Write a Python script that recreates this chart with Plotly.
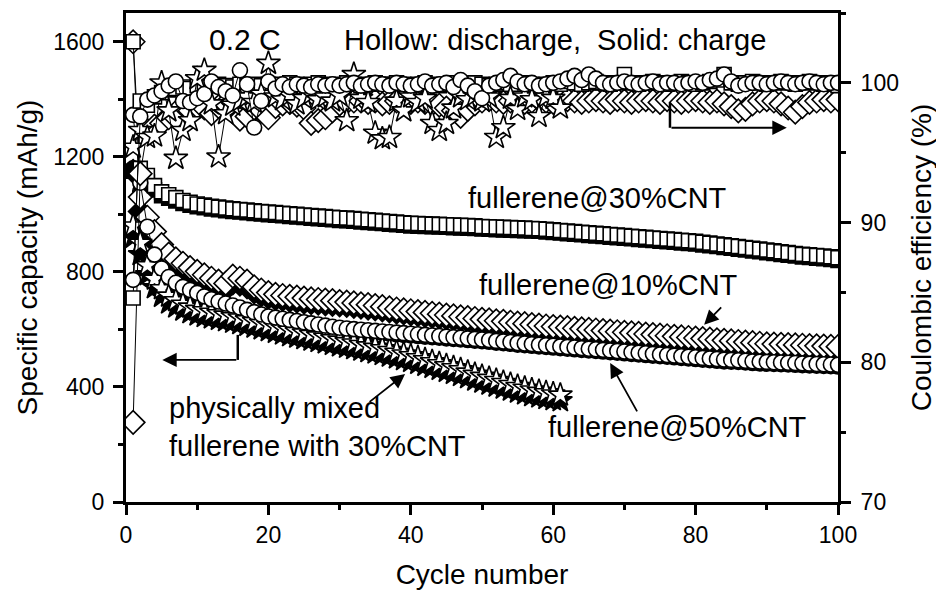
import plotly.graph_objects as go

cycles_100 = list(range(1, 101))
cycles_61 = list(range(1, 62))

# fullerene@30%CNT (squares)
sq_dis = [1600,1160,1135,1100,1078,1068,1058,1048,1042,1036,
          1032,1028,1025,1022,1019,1017,1015,1012,1010,1008,
          1006,1004,1002,1000,998,996,994,992,990,988,
          987,985,983,981,979,977,975,973,971,969,
          968,967,966,965,964,963,962,961,960,958,
          957,956,955,954,953,952,951,950,948,946,
          944,942,940,938,936,934,932,930,928,926,
          924,922,920,918,916,914,912,910,908,906,
          903,900,897,894,891,888,885,882,879,876,
          873,870,867,864,861,859,857,855,852,849]
sq_chg = [1150,1140,1112,1085,1065,1056,1047,1038,1032,1027,
          1023,1019,1016,1013,1010,1008,1006,1003,1001,999,
          997,995,993,991,989,987,985,983,981,979,
          978,976,974,972,970,968,966,964,962,960,
          959,958,957,956,955,954,953,952,951,949,
          948,947,946,945,944,943,942,941,939,937,
          935,933,931,929,927,925,923,921,919,917,
          915,913,911,909,907,905,903,901,899,897,
          894,891,888,885,882,879,876,873,870,867,
          864,861,858,855,852,850,848,846,843,840]
sq_ce = [84.6,98.7,98.4,99.0,99.3,99.5,99.6,99.7,99.6,99.8,
         99.7,99.8,99.9,99.8,99.7,99.9,99.8,99.9,99.8,99.9,
         99.8,99.9,100.0,99.9,99.8,99.9,100.0,99.9,99.8,99.9,
         100.0,99.9,99.8,99.9,100.0,99.9,99.9,100.0,99.9,99.8,
         99.9,100.0,99.9,99.8,99.9,100.0,99.9,99.9,100.0,99.9,
         99.8,99.9,100.0,99.9,99.9,100.0,99.9,99.8,99.9,100.0,
         99.9,100.1,100.0,99.9,100.0,100.1,100.0,99.9,100.0,100.6,
         100.0,99.9,100.0,100.1,100.0,99.9,100.0,100.1,100.0,99.9,
         100.0,100.1,100.2,100.6,100.0,99.9,100.0,100.1,100.0,99.9,
         100.0,100.1,100.0,99.9,100.0,100.1,100.0,99.9,100.0,99.8]

# fullerene@10%CNT (diamonds)
di_dis = [1600,1060,990,940,895,862,845,830,815,802,
          790,778,768,760,785,778,768,748,737,728,
          722,718,715,712,709,706,704,702,700,697,
          695,692,689,686,683,679,675,671,668,665,
          662,659,656,653,650,647,644,641,638,635,
          633,630,628,625,622,620,617,615,612,610,
          608,606,604,602,600,598,596,594,592,590,
          588,586,584,582,580,578,576,574,572,570,
          568,566,564,562,560,558,556,554,552,550,
          549,548,547,546,545,544,543,542,541,540]
di_chg = [1150,1010,950,905,865,835,818,803,790,778,
          767,756,747,740,762,757,748,730,720,712,
          707,704,701,698,695,693,691,689,687,685,
          683,680,677,674,671,668,664,660,657,654,
          651,648,645,642,639,636,633,630,627,624,
          622,620,618,615,612,610,607,605,602,600,
          598,596,594,592,590,588,586,584,582,580,
          578,576,574,572,570,568,566,564,562,560,
          558,556,554,552,550,548,546,544,542,540,
          539,538,537,536,535,534,533,532,531,530]
di_ce = [75.7,93.5,96.6,96.9,97.1,97.5,97.5,98.4,98.0,98.3,
         98.2,97.8,98.3,98.5,98.6,97.4,97.6,98.2,98.0,97.5,
         98.3,98.5,98.6,98.4,98.2,97.1,97.3,97.5,98.0,98.5,
         98.6,98.7,98.7,98.6,98.7,98.5,98.6,98.7,98.8,98.6,
         98.7,98.6,98.5,98.4,98.2,98.0,97.6,98.1,98.5,98.7,
         98.8,98.7,98.6,98.7,98.8,98.6,98.7,98.8,98.7,98.6,
         98.7,98.8,98.7,98.6,98.7,98.8,98.7,98.6,98.8,98.7,
         98.6,98.7,98.8,98.7,98.6,98.8,98.7,98.6,98.7,98.8,
         98.7,98.6,98.7,98.5,98.3,98.0,98.1,98.5,98.7,98.8,
         98.7,98.5,98.2,97.9,98.3,98.6,98.7,98.8,98.7,98.8]

# fullerene@50%CNT (circles)
ci_dis = [1346,1110,957,860,812,782,762,748,737,727,
          715,705,697,690,683,676,668,660,652,645,
          641,637,633,629,625,621,617,613,609,606,
          603,601,599,597,595,593,591,589,587,585,
          583,581,579,577,575,573,571,569,567,565,
          563,560,558,556,553,551,549,547,545,543,
          541,539,537,535,533,531,529,527,525,523,
          521,519,517,515,513,511,509,507,505,503,
          501,499,497,495,494,493,491,489,488,487,
          486,485,484,483,482,481,480,479,478,477]
ci_chg = [1160,1080,930,840,795,768,750,737,727,718,
          707,698,690,683,676,669,661,653,645,639,
          635,631,627,623,619,615,611,607,603,600,
          597,595,593,591,589,587,585,583,581,579,
          577,575,573,571,569,567,565,563,561,559,
          557,554,552,550,547,545,543,541,539,537,
          535,533,531,529,527,525,523,521,519,517,
          515,513,511,509,507,505,503,501,499,497,
          495,493,491,489,488,487,485,483,482,481,
          480,479,478,477,476,475,474,473,472,471]
ci_ce = [85.9,97.6,98.8,99.1,99.4,99.8,100.1,98.7,98.6,98.9,
         99.2,100.1,99.7,99.4,99.1,100.9,99.9,96.8,98.7,100.1,
         99.6,99.9,99.7,99.9,99.8,99.7,99.9,99.8,99.9,99.8,
         99.9,100.0,99.8,99.9,100.0,99.9,99.8,100.0,99.9,99.8,
         99.9,100.1,99.8,99.9,100.0,99.7,100.2,99.8,99.4,98.9,
         99.8,100.0,100.2,100.5,100.1,99.9,100.0,99.8,99.9,100.0,
         100.1,100.3,100.5,100.2,100.6,100.3,100.0,99.9,100.0,100.1,
         100.0,99.9,100.0,100.1,99.9,100.0,100.0,99.9,100.0,100.1,
         100.0,100.2,100.3,100.6,100.1,99.8,99.9,100.0,100.0,99.9,
         100.0,100.1,100.0,99.9,100.0,100.1,100.0,99.9,100.0,100.0]

# physically mixed fullerene with 30%CNT (stars)
st_dis = [960,900,822,775,742,716,700,688,678,670,
          665,660,655,650,645,640,634,628,622,616,
          610,604,598,593,588,583,578,573,568,563,
          558,553,548,543,538,533,527,521,515,509,
          502,495,488,481,474,467,460,452,444,437,
          430,423,416,409,402,396,390,385,380,376,372]
st_chg = [920,860,790,745,715,692,678,667,658,650,
          645,640,635,630,625,620,614,608,602,596,
          590,584,578,573,568,563,558,553,548,543,
          538,533,528,523,518,513,507,501,495,489,
          482,475,468,461,454,447,440,432,424,417,
          410,403,396,389,382,376,370,365,360,356,352]
st_ce = [95.4,96.6,96.1,96.2,100.0,98.0,94.6,96.6,97.3,100.3,
         100.9,98.5,94.7,97.8,98.4,98.7,99.0,98.6,99.2,101.4,
         99.0,98.8,99.1,98.5,98.9,99.2,98.8,99.0,98.7,99.1,
         97.3,100.6,98.9,98.6,96.4,96.0,96.1,98.7,98.0,99.0,
         98.6,98.9,97.1,96.6,97.1,98.2,99.0,98.8,99.1,98.7,
         99.0,96.1,96.8,98.9,98.1,99.0,98.8,97.6,99.0,98.9,98.2]

FONT = "Arial, Liberation Sans, sans-serif"
fig = go.Figure()

def add(x, y, sym, size, filled, axis):
    fig.add_trace(go.Scatter(
        x=x, y=y, yaxis=axis, mode="lines+markers",
        line=dict(color="black", width=1),
        marker=dict(symbol=sym, size=size,
                    color="black" if filled else "white",
                    line=dict(color="black", width=1.6)),
        showlegend=False, hoverinfo="skip"))

series = [
    (cycles_100, di_dis, di_chg, di_ce, "diamond", 18),
    (cycles_100, sq_dis, sq_chg, sq_ce, "square", 14),
    (cycles_61, st_dis, st_chg, st_ce, "star", 18),
    (cycles_100, ci_dis, ci_chg, ci_ce, "circle", 15),
]
for x, d, c, e, s, z in series:
    add(x, c, s, z, True, "y")
for x, d, c, e, s, z in series:
    add(x, d, s, z, False, "y")
for x, d, c, e, s, z in series:
    add(x, e, s, z, False, "y2")

axis_common = dict(showline=True, linecolor="black", linewidth=3,
                   ticks="outside", ticklen=10, tickwidth=2.5, tickcolor="black",
                   showgrid=False, zeroline=False, automargin=False,
                   tickfont=dict(family=FONT, size=23, color="black"))
minor_common = dict(ticklen=5, tickwidth=2.5, ticks="outside", tickcolor="black")
title_font = dict(family=FONT, size=28, color="black")

fig.update_layout(
    width=944, height=592,
    margin=dict(l=118, r=114, t=5, b=98),
    paper_bgcolor="white", plot_bgcolor="white",
    font=dict(family=FONT, color="black"),
    xaxis=dict(range=[0, 100], dtick=20, mirror=True,
               minor=dict(dtick=10, **minor_common),
               title=dict(text="Cycle number", font=title_font, standoff=18),
               **axis_common),
    yaxis=dict(range=[0, 1700], dtick=400, ticklabelstandoff=4,
               minor=dict(dtick=200, **minor_common),
               title=dict(text="Specific capacity (mAh/g)", font=title_font, standoff=8),
               **axis_common),
    yaxis2=dict(range=[70, 105], dtick=10, overlaying="y", side="right",
                ticklabelstandoff=5,
                minor=dict(dtick=5, **minor_common),
                title=dict(text="Coulombic efficiency (%)", font=title_font, standoff=14),
                **axis_common),
)

def txt(x, y, t, size=29, xanchor="center"):
    fig.add_annotation(x=x, y=y, xref="x", yref="y", text=t, showarrow=False,
                       xanchor=xanchor, yanchor="middle", align="left",
                       font=dict(family=FONT, size=size, color="black"))

txt(16.7, 1607, "0.2 C", 30)
txt(60.3, 1607, "Hollow: discharge,  Solid: charge", 29)
txt(66.2, 1057, "fullerene@30%CNT")
txt(67.8, 755, "fullerene@10%CNT")
txt(77.4, 261, "fullerene@50%CNT")
txt(5.8, 262, "physically mixed<br>fullerene with 30%CNT", 29, xanchor="left")

def arrow(x, y, ax, ay):
    fig.add_annotation(x=x, y=y, ax=ax, ay=ay, xref="x", yref="y", axref="x", ayref="y",
                       text="", showarrow=True, arrowhead=2, arrowsize=1.6,
                       arrowwidth=1.8, arrowcolor="black")

# L-shaped arrows
fig.add_shape(type="line", x0=15.7, x1=15.7, y0=581, y1=494, xref="x", yref="y",
              line=dict(color="black", width=2.5))
arrow(5.1, 494, 15.7, 494)
fig.add_shape(type="line", x0=76.4, x1=76.4, y0=1388, y1=1301, xref="x", yref="y",
              line=dict(color="black", width=2.5))
arrow(92.8, 1301, 76.4, 1301)
# pointer arrows
arrow(81.2, 616, 83.8, 682)
arrow(68.0, 483, 71.9, 310)
arrow(39.2, 445, 34.0, 344)

fig.write_html("out.html")
